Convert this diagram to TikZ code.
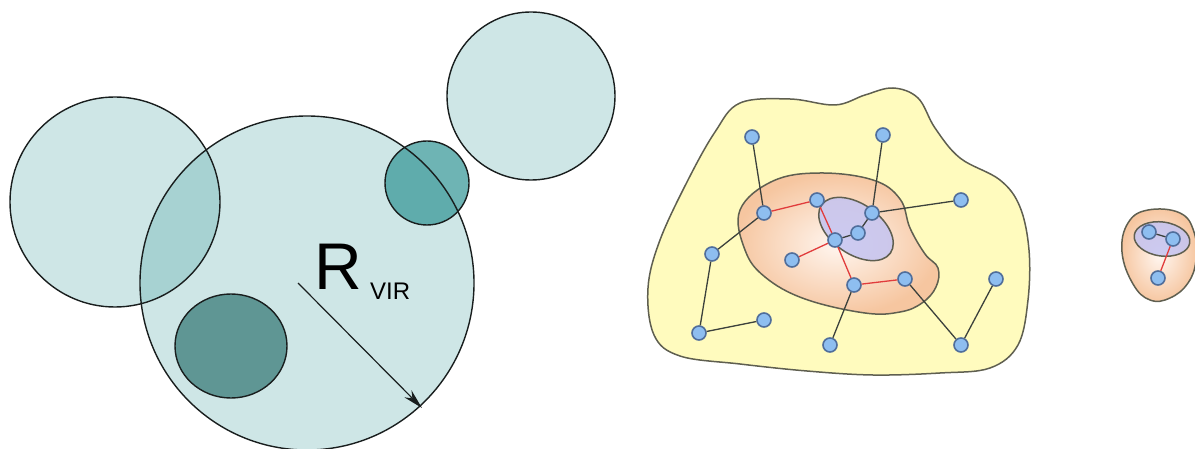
\documentclass[tikz,border=0pt]{standalone}
\usepackage{fontspec}
\setmainfont{Liberation Sans}
\usetikzlibrary{arrows.meta}
\definecolor{tealbase}{RGB}{10,130,130}
\definecolor{tealmid}{RGB}{48,148,148}
\definecolor{tealdark}{RGB}{95,150,148}
\definecolor{outl}{RGB}{25,30,30}
\definecolor{blobyellow}{RGB}{255,251,190}
\definecolor{blobline}{RGB}{95,95,80}
\definecolor{orangeedge}{RGB}{246,198,160}
\definecolor{orangein}{RGB}{255,246,240}
\definecolor{coreblue}{RGB}{196,196,242}
\definecolor{vfill}{RGB}{142,190,240}
\definecolor{vline}{RGB}{80,110,155}
\definecolor{edgedark}{RGB}{60,65,60}
\definecolor{edgered}{RGB}{225,60,60}
\tikzset{
  lightdisk/.style={fill=tealbase,fill opacity=0.2},
  ring/.style={draw=outl,line width=1.4pt},
  blobyel/.style={fill=blobyellow,draw=blobline,line width=1.5pt},
  blobor/.style={inner color=orangein,outer color=orangeedge},
  blobline/.style={draw=blobline,line width=1.5pt},
  coreell/.style={fill=coreblue,fill opacity=0.85,draw=blobline,line width=1.5pt},
  vtx/.style={circle,fill=vfill,draw=vline,line width=1.6pt,minimum size=14pt,inner sep=0pt},
  dk/.style={draw=edgedark,line width=1.3pt},
  rd/.style={draw=edgered,line width=1.3pt},
}
\begin{document}
\begin{tikzpicture}[x=1pt,y=-1pt]
\useasboundingbox (0,0) rectangle (1195,449);
% ---- left: halo circles
\fill[lightdisk] (307,283) circle (167);
\fill[lightdisk] (115,202) circle (105);
\fill[lightdisk] (531,96) circle (84);
\fill[tealmid,fill opacity=0.7] (427,183) circle (42);
\fill[tealdark] (231,346) ellipse (56 and 52);
\draw[ring] (307,283) circle (167);
\draw[ring] (115,202) circle (105);
\draw[ring] (531,96) circle (84);
\draw[ring] (427,183) circle (42);
\draw[ring] (231,346) ellipse (56 and 52);
\coordinate (rs) at (298,283);
\coordinate (re) at (422,408);
\draw[outl,line width=1.2pt,-{Stealth[length=20pt,width=10pt]}] (rs) -- (re);
\node[anchor=base west,inner sep=0pt,font=\fontsize{66}{66}\selectfont] (R) at (314,290) {R};
\node[anchor=base west,inner sep=0pt,font=\fontsize{24}{24}\selectfont] (vir) at (370,300) {VIR};
% ---- middle: large group
\path[blobyel] plot[smooth cycle,tension=0.6] coordinates {
 (740,103) (790,99) (835,105) (865,95) (893,88) (918,98) (935,128) (960,158) (1000,180) (1020,207)
 (1029,250) (1028,300) (1018,345) (990,368) (940,373) (873,375) (807,371) (740,364) (680,356)
 (654,335) (648,288) (660,240) (688,180) (715,132)};
\shade[blobor] plot[smooth cycle,tension=0.65] coordinates {
 (740,210) (773,181) (820,173) (873,180) (900,199) (910,228) (925,254) (938,268) (936,287)
 (922,303) (900,312) (865,313) (805,299) (765,277) (745,250)};
\path[blobline] plot[smooth cycle,tension=0.65] coordinates {
 (740,210) (773,181) (820,173) (873,180) (900,199) (910,228) (925,254) (938,268) (936,287)
 (922,303) (900,312) (865,313) (805,299) (765,277) (745,250)};
\path[coreell] (856,229) ellipse [x radius=42,y radius=25,rotate=-35];
\node[vtx] (a1) at (752,137) {};
\node[vtx] (a2) at (883,135) {};
\node[vtx] (a3) at (764,213) {};
\node[vtx] (a4) at (817,200) {};
\node[vtx] (a5) at (872,213) {};
\node[vtx] (a6) at (961,200) {};
\node[vtx] (a7) at (858,233) {};
\node[vtx] (a8) at (835,240) {};
\node[vtx] (a9) at (712,254) {};
\node[vtx] (a10) at (792,260) {};
\node[vtx] (a11) at (854,285) {};
\node[vtx] (a12) at (905,279) {};
\node[vtx] (a13) at (996,279) {};
\node[vtx] (a14) at (764,320) {};
\node[vtx] (a15) at (699,333) {};
\node[vtx] (a16) at (830,345) {};
\node[vtx] (a17) at (961,345) {};
\draw[dk] (a1) -- (a3);
\draw[rd] (a3) -- (a4);
\draw[dk] (a3) -- (a9);
\draw[dk] (a9) -- (a15);
\draw[dk] (a15) -- (a14);
\draw[rd] (a4) -- (a8);
\draw[rd] (a8) -- (a11);
\draw[rd] (a8) -- (a10);
\draw[dk] (a8) -- (a7);
\draw[dk] (a7) -- (a5);
\draw[dk] (a5) -- (a2);
\draw[dk] (a5) -- (a6);
\draw[rd] (a11) -- (a12);
\draw[dk] (a11) -- (a16);
\draw[dk] (a12) -- (a17);
\draw[dk] (a17) -- (a13);
% ---- right: small group
\shade[blobor] plot[smooth cycle,tension=0.7] coordinates {
 (1148,210) (1180,213) (1194,232) (1196,260) (1188,283) (1170,298) (1150,300) (1133,284) (1122,252) (1128,223)};
\path[blobline] plot[smooth cycle,tension=0.7] coordinates {
 (1148,210) (1180,213) (1194,232) (1196,260) (1188,283) (1170,298) (1150,300) (1133,284) (1122,252) (1128,223)};
\path[coreell] (1162,239) ellipse [x radius=28,y radius=17,rotate=-8];
\node[vtx] (b1) at (1149,232) {};
\node[vtx] (b2) at (1173,239) {};
\node[vtx] (b3) at (1158,278) {};
\draw[dk] (b1) -- (b2);
\draw[rd] (b2) -- (b3);
\end{tikzpicture}
\end{document}
